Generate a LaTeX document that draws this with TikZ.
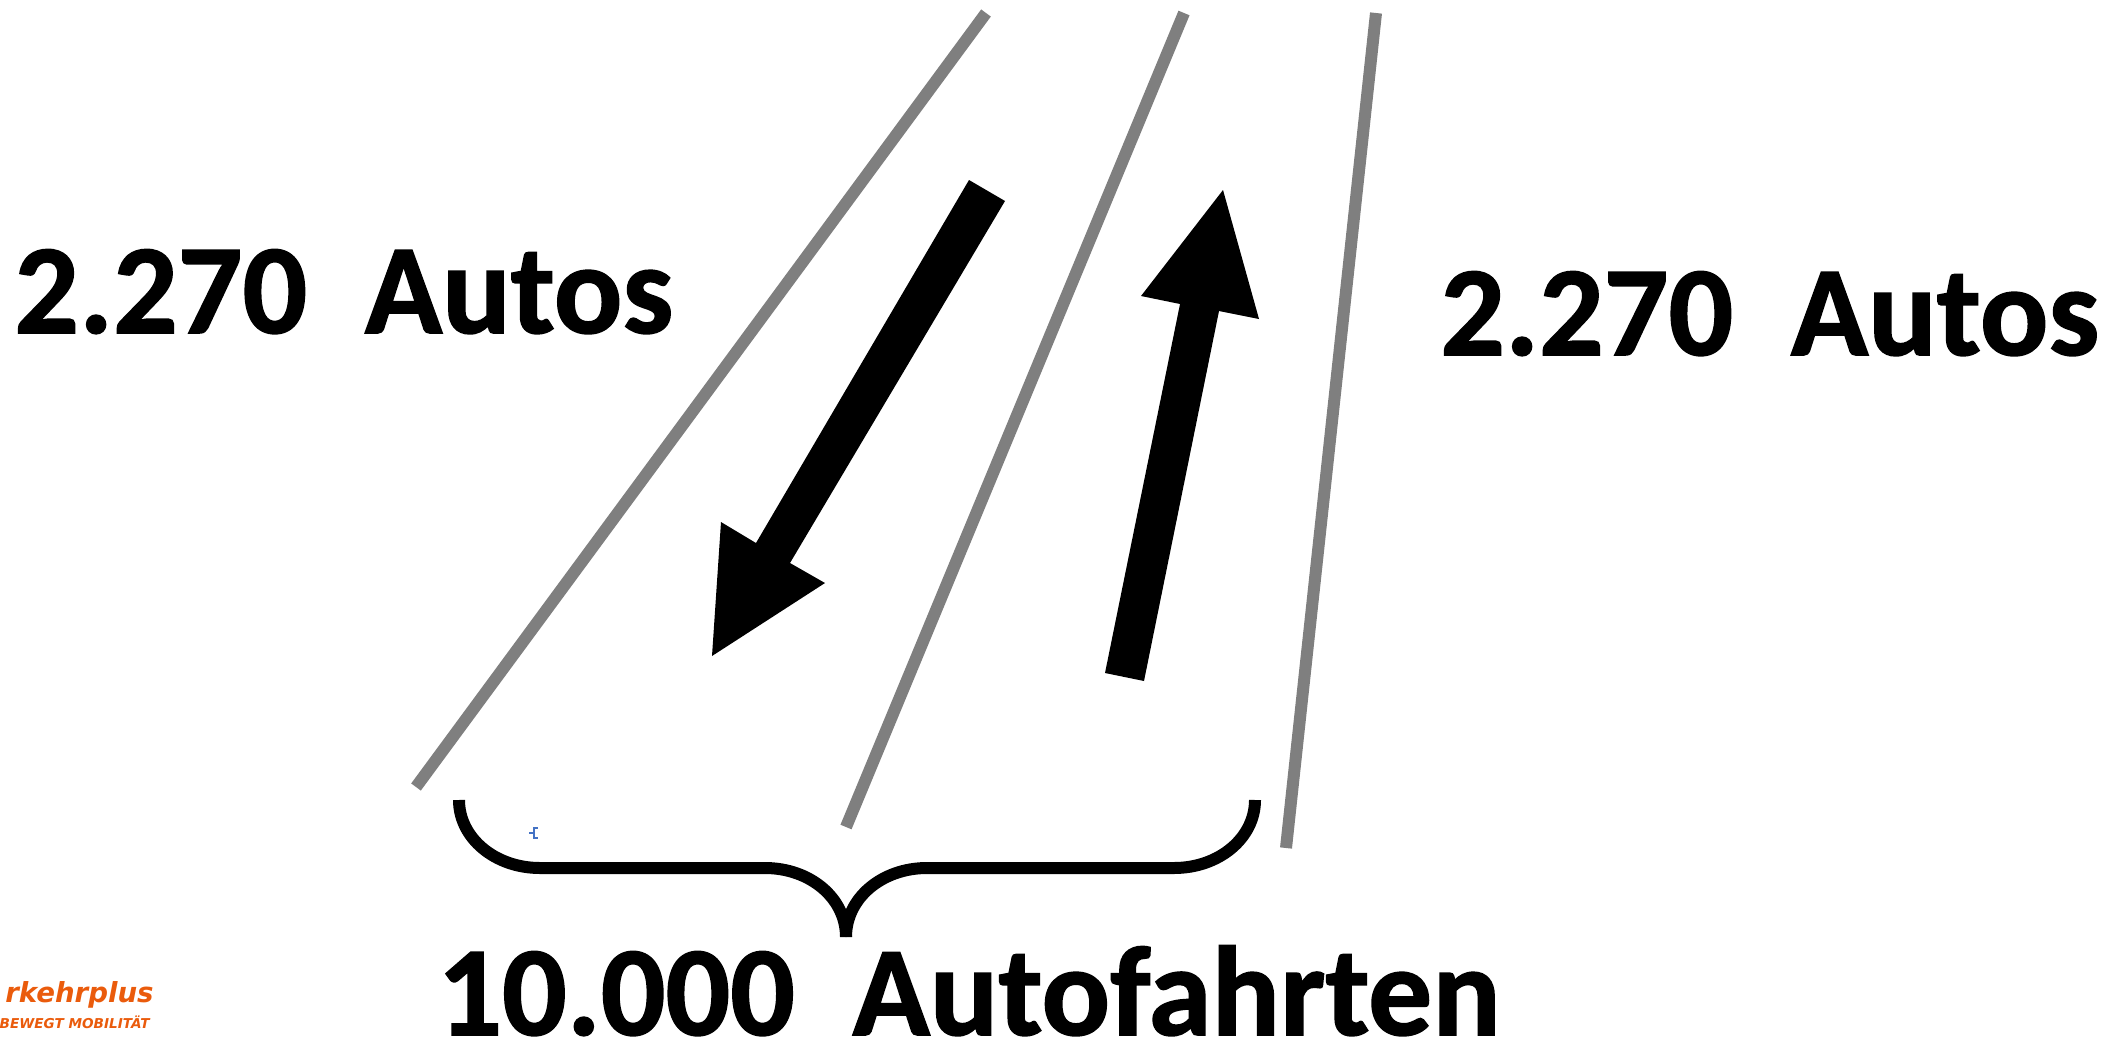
\documentclass[tikz,border=0pt]{standalone}
\usepackage{fontspec}
\setmainfont{Carlito}[BoldFeatures={FakeBold=1.2}]
\newfontfamily\logofont{DejaVu Sans}
\definecolor{logoor}{HTML}{EA5B0C}
\definecolor{linegray}{HTML}{7F7F7F}
\definecolor{markblue}{HTML}{4472C4}
\tikzset{
  road/.style={draw=linegray,line width=6pt},
  bigtext/.style={anchor=base west,inner sep=0pt,font=\fontsize{63.8}{70}\selectfont\bfseries,text=black},
  bracepath/.style={draw=black,line width=6pt},
  logoA/.style={anchor=base east,inner sep=0pt,font=\logofont\fontsize{13.8}{16}\selectfont\bfseries\itshape,text=logoor},
  logoB/.style={anchor=base east,inner sep=0pt,font=\logofont\fontsize{6.8}{8}\selectfont\bfseries\itshape,text=logoor},
}
\begin{document}
\begin{tikzpicture}[x=0.5pt,y=-0.5pt]
\useasboundingbox (0,0) rectangle (2103,1044);
% roads
\coordinate (r1a) at (986,13); \coordinate (r1b) at (416,787);
\coordinate (r2a) at (1184,13); \coordinate (r2b) at (846,827);
\coordinate (r3a) at (1376,13); \coordinate (r3b) at (1286,848);
\draw[road] (r1a) -- (r1b);
\draw[road] (r2a) -- (r2b);
\draw[road] (r3a) -- (r3b);
% arrows
\fill[black] (969,180) -- (1005,201) -- (790,563) -- (825,583) -- (712,656) -- (721,522) -- (756,543) -- cycle;
\fill[black] (1105,673) -- (1144,681) -- (1219,311) -- (1259,319) -- (1223,190) -- (1141,296) -- (1180,304) -- cycle;
% brace
\draw[bracepath] (459,800) .. controls (459,838) and (495,868) .. (540,868) -- (765,868) .. controls (810,868) and (846,898) .. (846,937);
\draw[bracepath] (1255,800) .. controls (1255,838) and (1219,868) .. (1174,868) -- (927,868) .. controls (882,868) and (846,898) .. (846,937);
% small mark
\draw[markblue,line width=0.6pt] (529,833) -- (534,833) (538,828) -- (534,828) -- (534,838) -- (538,838);
% text
\node[bigtext] (t1) at (14,333) {2.270~~Autos};
\node[bigtext] (t2) at (1440,355) {2.270~~Autos};
\node[bigtext] (t3) at (437,1035) {10.000~~Autofahrten};
\node[logoA] (l1) at (154,1002) {rkehrplus};
\node[logoB] (l2) at (150,1028) {BEWEGT MOBILITÄT};
\end{tikzpicture}
\end{document}
